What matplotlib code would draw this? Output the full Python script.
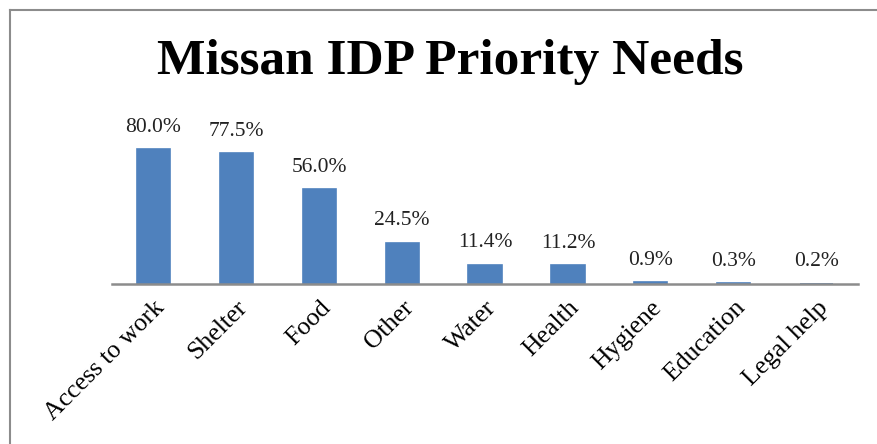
import matplotlib.pyplot as plt
from matplotlib.lines import Line2D

categories = ['Access to work', 'Shelter', 'Food', 'Other', 'Water',
              'Health', 'Hygiene', 'Education', 'Legal help']
values = [80.0, 77.5, 56.0, 24.5, 11.4, 11.2, 0.9, 0.3, 0.2]

plt.rcParams['font.family'] = ['Liberation Serif', 'DejaVu Serif']

fig = plt.figure(figsize=(8.78, 4.44), dpi=100)
ax = fig.add_axes([0.1276, 0.3604, 0.8497, 0.342])

x = range(len(categories))
ax.bar(x, values, width=0.40, color='#4F81BD', edgecolor='#4F81BD', linewidth=1.2)
for i, v in enumerate(values):
    ax.annotate('%.1f%%' % v, (i, v), xytext=(0, 9), textcoords='offset points',
                ha='center', va='bottom', fontsize=15.5, color='#222222')

ax.set_xlim(-0.5, len(categories) - 0.5)
ax.set_ylim(0, 90)
ax.set_yticks([])
ax.set_xticks(list(x))
ax.set_xticklabels(categories, rotation=45, ha='right', rotation_mode='anchor',
                   fontsize=18.5)
ax.tick_params(axis='x', length=0, pad=9)
for side in ['top', 'right', 'left']:
    ax.spines[side].set_visible(False)
ax.spines['bottom'].set_color('#8c8c8c')
ax.spines['bottom'].set_linewidth(1.8)

fig.text(0.513, 0.833, 'Missan IDP Priority Needs', ha='center', va='baseline',
         fontsize=37, fontweight='bold')

# chart border
bx, by = 10.5 / 878, 1 - 10.5 / 444
fig.add_artist(Line2D([bx, 1.0], [by, by], color='#8c8c8c', lw=1.5))
fig.add_artist(Line2D([bx, bx], [0.0, by], color='#8c8c8c', lw=1.5))

fig.savefig('out.png', dpi=100)
